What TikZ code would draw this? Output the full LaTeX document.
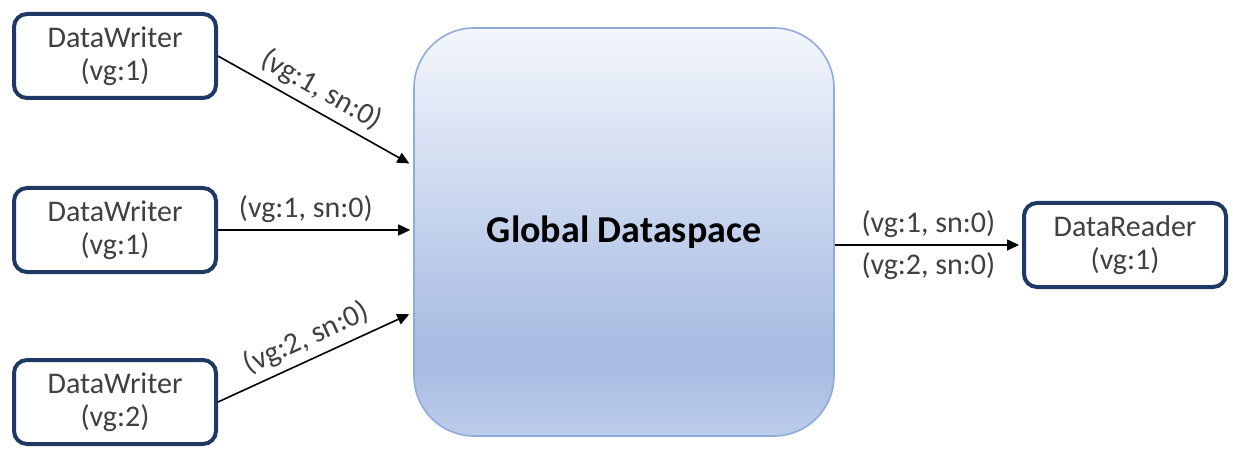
\documentclass[tikz,border=0pt]{standalone}
\usepackage{fontspec}
\setmainfont{Carlito}
\usetikzlibrary{arrows.meta}
\definecolor{writerNavy}{HTML}{203864}
\definecolor{spaceEdge}{HTML}{8FAADC}
\definecolor{spaceTop}{HTML}{F3F6FC}
\definecolor{spaceMid}{HTML}{A9BDE3}
\definecolor{spaceBot}{HTML}{BCCCEA}
\definecolor{textGray}{HTML}{404040}
\pgfdeclareverticalshading{dataspace}{100bp}{color(0bp)=(spaceBot); color(25bp)=(spaceBot);
  color(33bp)=(spaceMid); color(37bp)=(spaceMid); color(75bp)=(spaceTop); color(100bp)=(spaceTop)}

\begin{document}
\begin{tikzpicture}[x=0.5pt,y=-0.5pt,
    endpoint/.style={draw=writerNavy, line width=2pt, rounded corners=6.5pt, fill=white,
      text=textGray, minimum width=101pt, minimum height=42pt, align=center,
      font=\fontsize{15}{16.5}\selectfont},
    flow/.style={-{Triangle[length=6pt,width=5.5pt]}, line width=0.8pt, shorten >=1.5pt},
    tag/.style={font=\fontsize{15}{17}\selectfont, text=textGray}]
  \useasboundingbox (0,0) rectangle (1233,449);
  \node[draw=spaceEdge, line width=0.8pt, rounded corners=30pt, shading=dataspace,
    minimum width=210pt, minimum height=204pt,
    font=\bfseries\fontsize{19}{22}\selectfont] (gd) at (624,232) {Global Dataspace};
  \node[endpoint] (dw1) at (115,56) {DataWriter\\(vg:1)};
  \node[endpoint] (dw2) at (115,230) {DataWriter\\(vg:1)};
  \node[endpoint] (dw3) at (115,402) {DataWriter\\(vg:2)};
  \node[endpoint] (dr) at (1125,245) {DataReader\\(vg:1)};
  \coordinate (in1) at (412,165);
  \coordinate (in3) at (412,313);
  \draw[flow] (dw1.east) -- (in1) node[tag, pos=0.48, above, sloped] {(vg:1, sn:0)};
  \draw[flow] (dw2.east) -- (dw2.east -| gd.west) node[tag, pos=0.45, above] {(vg:1, sn:0)};
  \draw[flow] (dw3.east) -- (in3) node[tag, midway, above, sloped] {(vg:2, sn:0)};
  \draw[flow] (gd.east |- dr.west) -- (dr.west)
    node[tag, midway, above] {(vg:1, sn:0)}
    node[tag, midway, below] {(vg:2, sn:0)};
\end{tikzpicture}
\end{document}
